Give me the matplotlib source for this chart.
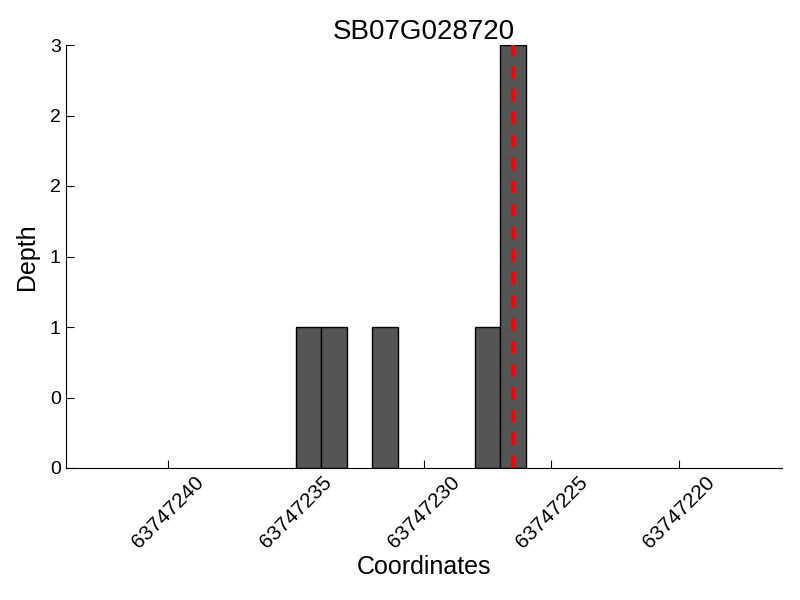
import matplotlib
matplotlib.use("Agg")
import matplotlib.pyplot as plt
from matplotlib.ticker import FormatStrFormatter

plt.rcParams["font.family"] = ["Liberation Sans", "DejaVu Sans"]

# --- Données ---
gene = "SB07G028720"
positions = [63747234, 63747233, 63747231, 63747227, 63747226]
depth = [1, 1, 1, 1, 3]
snp_pos = 63747226.5
xticks = [63747240, 63747235, 63747230, 63747225, 63747220]
yticks = [0, 0.5, 1, 1.5, 2, 2.5, 3]

fig = plt.figure(figsize=(8, 6), dpi=100)
ax = fig.add_axes([0.082, 0.22, 0.895, 0.705])

ax.bar(positions, depth, width=1, align="edge",
       color="#555555", edgecolor="black", linewidth=1)
ax.axvline(snp_pos, color="red", linestyle="--", linewidth=3, dashes=(3, 2.5))

ax.set_xlim(63747244, 63747216)
ax.set_ylim(0, 3)
ax.set_xticks(xticks)
ax.set_xticklabels([str(x) for x in xticks], rotation=45, ha="center")
ax.set_yticks(yticks)
ax.yaxis.set_major_formatter(FormatStrFormatter("%d"))

ax.spines["top"].set_visible(False)
ax.spines["right"].set_visible(False)
ax.tick_params(direction="in", length=6, width=0.8)
ax.tick_params(axis="x", labelsize=15)
ax.tick_params(axis="y", labelsize=14)

ax.set_xlabel("Coordinates", fontsize=18, labelpad=2)
ax.set_ylabel("Depth", fontsize=18, labelpad=8)
ax.set_title(gene, fontsize=20, pad=3)

plt.savefig("out.png", dpi=100)
